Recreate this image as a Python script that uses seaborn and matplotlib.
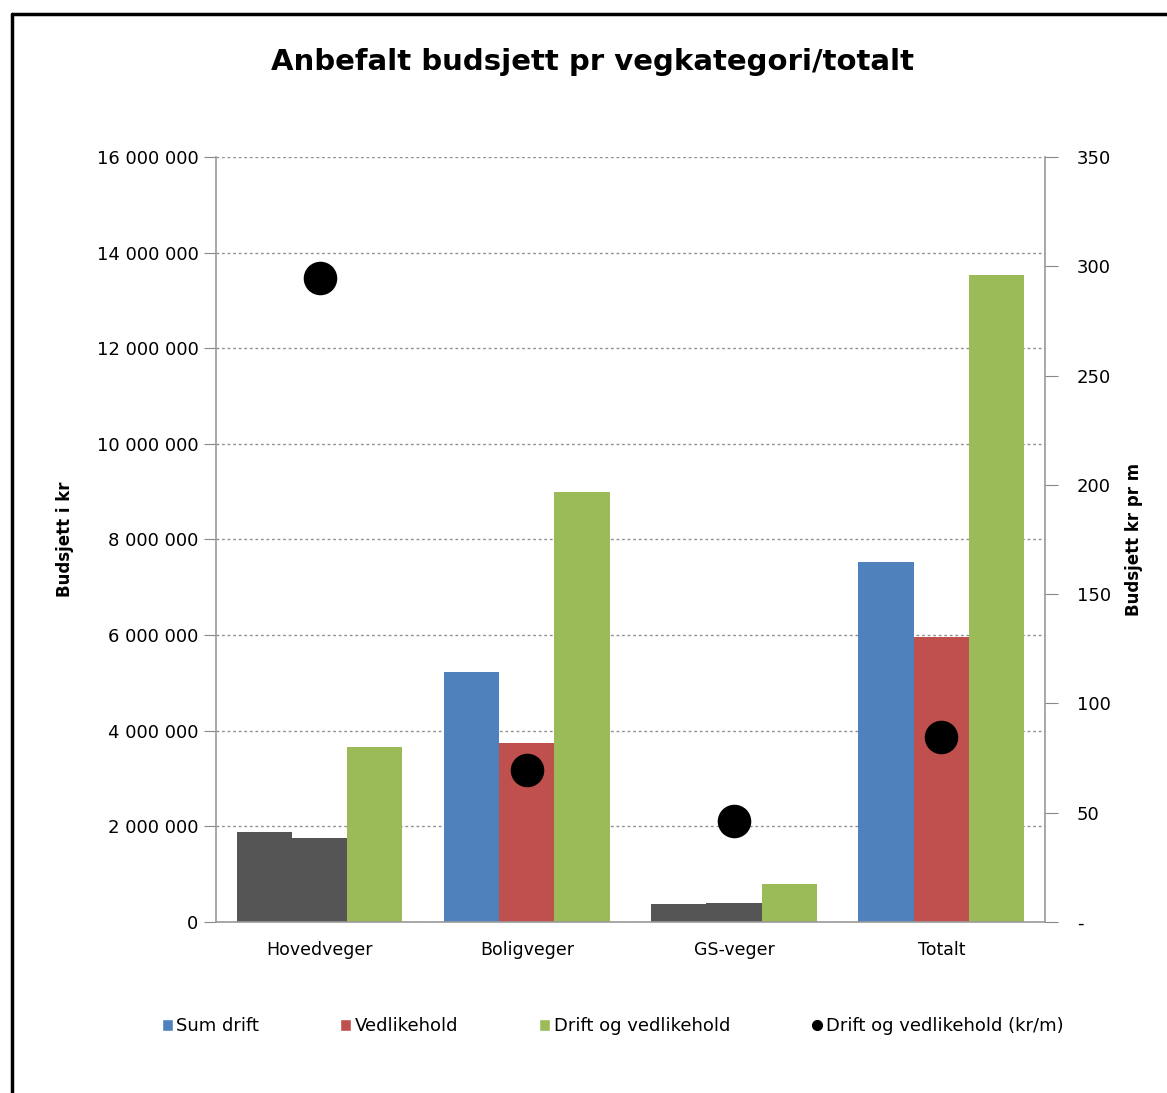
import pandas as pd
import seaborn as sns
import matplotlib.pyplot as plt
from matplotlib.lines import Line2D
from matplotlib.patches import Patch

categories = ['Hovedveger', 'Boligveger', 'GS-veger', 'Totalt']
sum_drift = [1880000, 5230000, 380000, 7530000]
vedlikehold = [1760000, 3740000, 400000, 5960000]
drift_og_vedl = [3660000, 9000000, 800000, 13540000]
kr_per_m = [294.6, 69.5, 46.2, 84.6]

series = ['Sum drift', 'Vedlikehold', 'Drift og vedlikehold']
colors = ['#4f81bd', '#c0504d', '#9bbb59']

rows = []
for name, vals in zip(series, [sum_drift, vedlikehold, drift_og_vedl]):
    for c, v in zip(categories, vals):
        rows.append({'kategori': c, 'serie': name, 'kr': v})
df = pd.DataFrame(rows)
df_m = pd.DataFrame({'kategori': categories, 'kr_m': kr_per_m})

sns.set_style('white')
plt.rcParams['font.family'] = ['DejaVu Sans']
plt.rcParams['text.color'] = 'black'
plt.rcParams['xtick.color'] = 'black'
plt.rcParams['ytick.color'] = 'black'
plt.rcParams['axes.labelcolor'] = 'black'

fig = plt.figure(figsize=(11.67, 10.93), dpi=100)
ax = fig.add_axes([0.185, 0.1565, 0.7105, 0.6999])

sns.barplot(data=df, x='kategori', y='kr', hue='serie', palette=colors,
            saturation=1, width=0.8, linewidth=0, ax=ax, legend=False, zorder=2)

# the scanned original shows these bars in dark grey
for cont in ax.containers[:2]:
    for i in (0, 2):
        cont[i].set_facecolor('#555555')

ax.set_ylim(0, 16000000)
ax.set_yticks(range(0, 16000001, 2000000))
ax.set_yticklabels(['{:,}'.format(v).replace(',', ' ') for v in range(0, 16000001, 2000000)],
                   fontsize=13)
ax.yaxis.grid(True, linestyle=(0, (2, 2)), color='#909090', linewidth=1, zorder=0)
ax.set_axisbelow(True)
ax.set_xlabel('')
ax.set_ylabel('Budsjett i kr', fontsize=12, fontweight='bold', labelpad=16)
ax.tick_params(axis='x', labelsize=12.5, length=0, pad=14)
ax.tick_params(axis='y', direction='out', length=9, color='#888888', left=True)
for s in ['left', 'bottom', 'right']:
    ax.spines[s].set_color('#999999')
    ax.spines[s].set_linewidth(1.2)
ax.spines['top'].set_visible(False)

ax2 = ax.twinx()
sns.scatterplot(data=df_m, x='kategori', y='kr_m', color='black', s=500,
                edgecolor='black', ax=ax2, legend=False, zorder=5)
ax.set_xlim(-0.5, 3.5)
ax2.set_ylim(0, 350)
ax2.set_yticks(range(0, 351, 50))
ax2.set_yticklabels(['-'] + [str(v) for v in range(50, 351, 50)], fontsize=13)
ax2.set_ylabel('Budsjett kr pr m', fontsize=12, fontweight='bold', labelpad=10)
ax2.tick_params(axis='y', direction='out', length=9, color='#888888', right=True, pad=14)
for s in ax2.spines.values():
    s.set_visible(False)

fig.text(0.508, 1 - 62 / 1093, 'Anbefalt budsjett pr vegkategori/totalt', fontsize=21,
         fontweight='bold', ha='center', va='center')

handles = [Patch(facecolor=c) for c in colors]
handles.append(Line2D([], [], marker='o', color='black', linestyle='', markersize=7))
fig.legend(handles, series + ['Drift og vedlikehold (kr/m)'], loc='center',
           bbox_to_anchor=(0.525, 0.061), ncol=4, frameon=False, fontsize=13,
           handlelength=0.6, handleheight=0.6, handletextpad=0.2, columnspacing=4.5)

fig.add_artist(Line2D([0.0103, 1.0], [1 - 14 / 1093] * 2, color='black', linewidth=2.5,
                      transform=fig.transFigure))
fig.add_artist(Line2D([0.0103] * 2, [0.0, 1 - 14 / 1093], color='black', linewidth=2.5,
                      transform=fig.transFigure))

fig.savefig('out.png', dpi=100)
